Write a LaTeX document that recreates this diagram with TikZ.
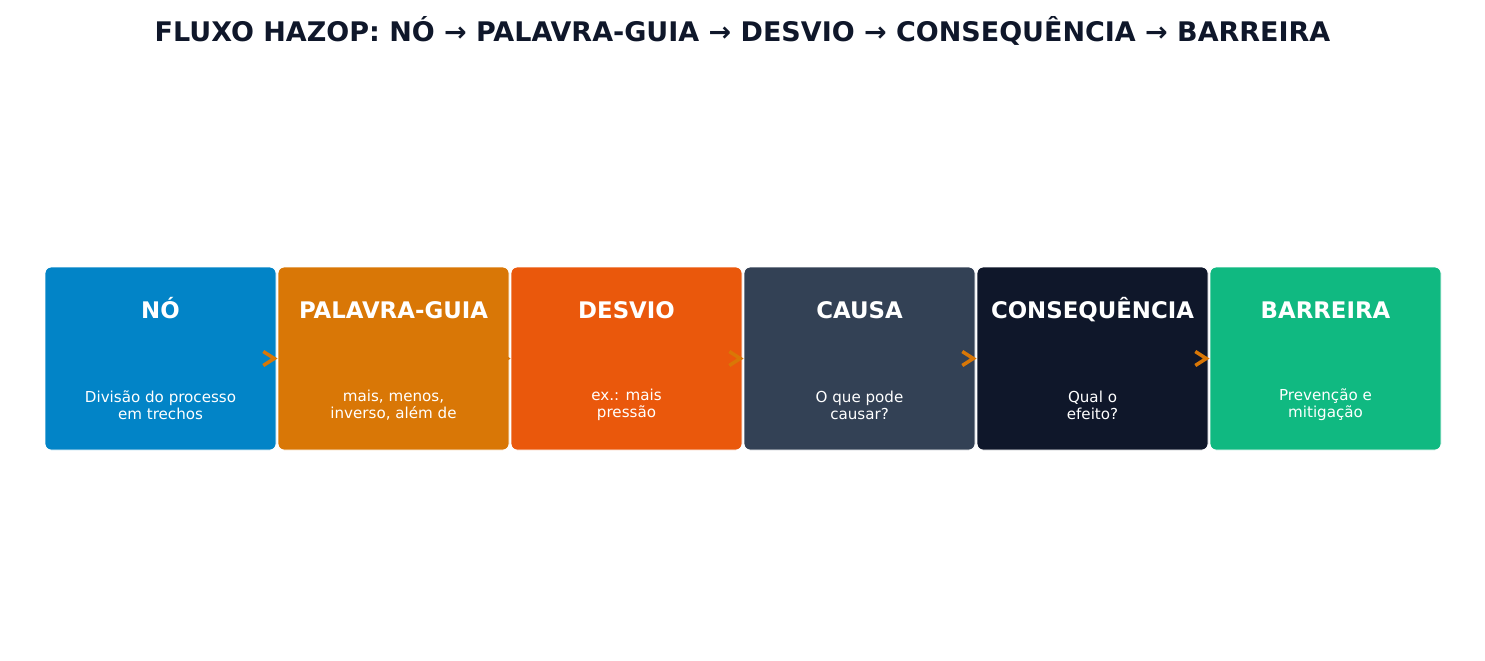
\documentclass[tikz,border=0pt]{standalone}
\usepackage{fontspec}
\setmainfont{DejaVu Sans}
\usetikzlibrary{positioning,arrows.meta}
\definecolor{nodeblue}{HTML}{0284C7}
\definecolor{guideamber}{HTML}{D97706}
\definecolor{devorange}{HTML}{EA580C}
\definecolor{causeslate}{HTML}{334155}
\definecolor{inknavy}{HTML}{0F172A}
\definecolor{barrgreen}{HTML}{10B981}

\begin{document}
\begin{tikzpicture}
  \tikzstyle{stage}=[rectangle, rounded corners=0.12cm, draw=white, line width=0.5pt,
minimum width=4.62cm, minimum height=3.66cm, inner sep=0pt]
  \tikzstyle{head}=[anchor=base, text=white, font=\fontsize{13}{16}\selectfont\bfseries]
  \tikzstyle{body}=[text=white, align=center, font=\fontsize{8.6}{9.7}\selectfont]
  \tikzstyle{flow}=[-{Straight Barb[length=0.22cm, width=0.28cm]}, line width=2pt, guideamber]
  \useasboundingbox (0,0) rectangle (29.7,-13.22);

  \node[anchor=base, text=inknavy, font=\fontsize{15.35}{18}\selectfont\bfseries] (title) at (14.85,-0.82)
    {FLUXO HAZOP: NÓ → PALAVRA-GUIA → DESVIO → CONSEQUÊNCIA → BARREIRA};

  \node[stage, fill=nodeblue] (S_1) at (3.21,-7.17) {};
  \node[stage, fill=guideamber] (S_2) at (7.87,-7.17) {};
  \node[stage, fill=devorange] (S_3) at (12.53,-7.17) {};
  \node[stage, fill=causeslate] (S_4) at (17.19,-7.17) {};
  \node[stage, fill=inknavy] (S_5) at (21.85,-7.17) {};
  \node[stage, fill=barrgreen] (S_6) at (26.51,-7.17) {};

  \draw[flow] (S_1.east) -- (S_2.west);
  \draw[flow] (S_2.east) -- (S_3.west);
  \draw[flow] (S_3.east) -- (S_4.west);
  \draw[flow] (S_4.east) -- (S_5.west);
  \draw[flow] (S_5.east) -- (S_6.west);

  \node[head] (H_1) at ([yshift=0.8cm]S_1.center) {NÓ};
  \node[head] (H_2) at ([yshift=0.8cm]S_2.center) {PALAVRA-GUIA};
  \node[head] (H_3) at ([yshift=0.8cm]S_3.center) {DESVIO};
  \node[head] (H_4) at ([yshift=0.8cm]S_4.center) {CAUSA};
  \node[head] (H_5) at ([yshift=0.8cm]S_5.center) {CONSEQUÊNCIA};
  \node[head] (H_6) at ([yshift=0.8cm]S_6.center) {BARREIRA};

  \node[body] (D_1) at ([yshift=-0.93cm]S_1.center) {Divisão do processo\\em trechos};
  \node[body] (D_2) at ([yshift=-0.93cm]S_2.center) {mais, menos,\\inverso, além de};
  \node[body] (D_3) at ([yshift=-0.93cm]S_3.center) {ex.: mais\\pressão};
  \node[body] (D_4) at ([yshift=-0.93cm]S_4.center) {O que pode\\causar?};
  \node[body] (D_5) at ([yshift=-0.93cm]S_5.center) {Qual o\\efeito?};
  \node[body] (D_6) at ([yshift=-0.93cm]S_6.center) {Prevenção e\\mitigação};
\end{tikzpicture}
\end{document}
